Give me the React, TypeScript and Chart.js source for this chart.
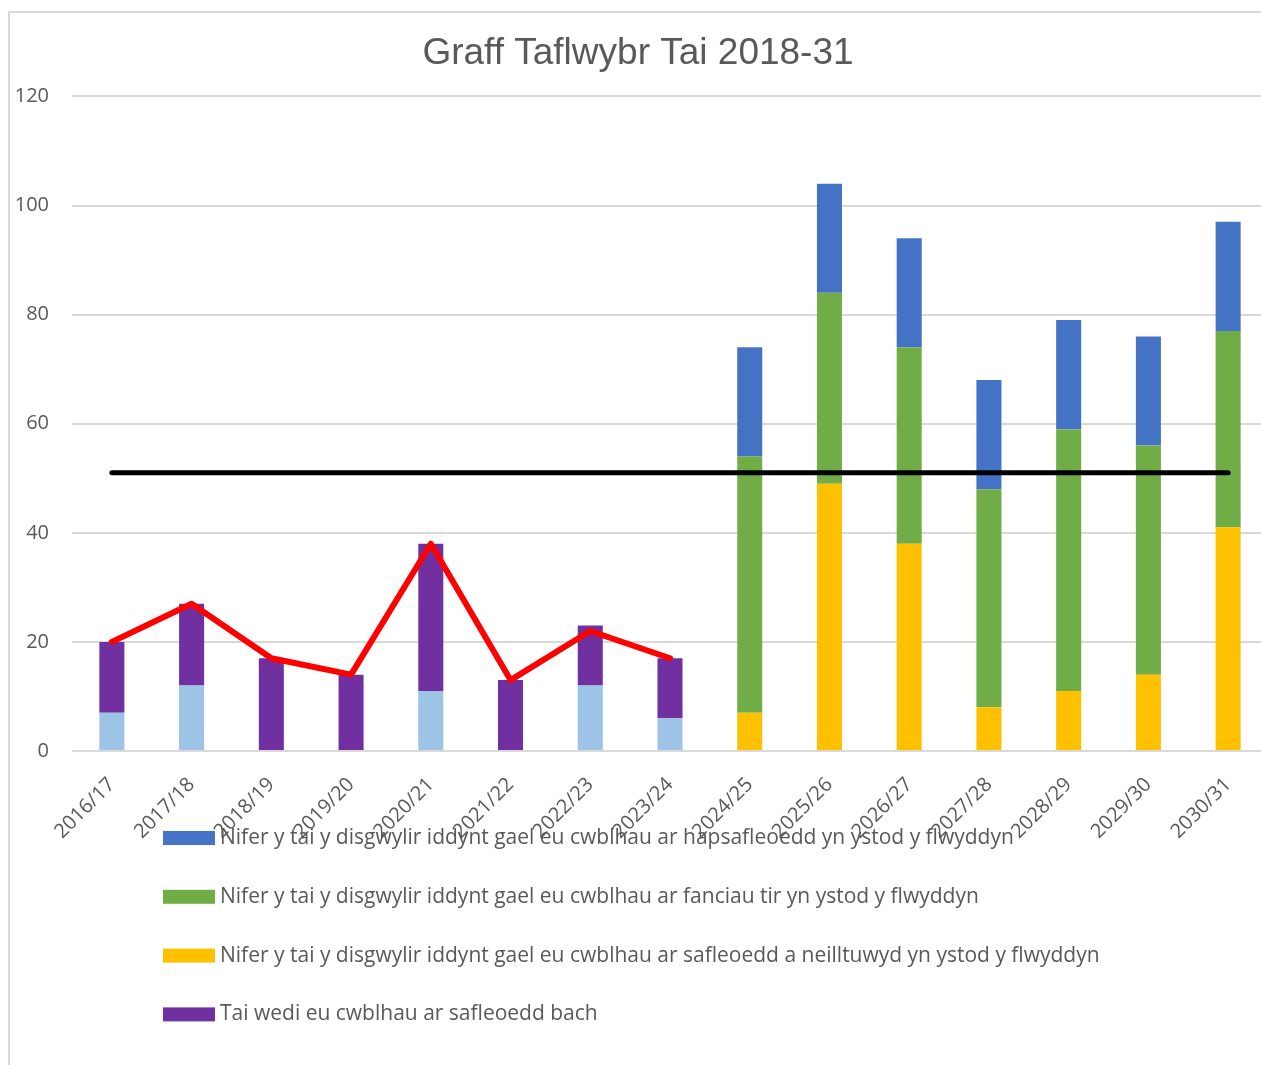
import React, { useEffect, useRef } from "react";
import { Chart, registerables } from "chart.js";

Chart.register(...registerables);

const TITLE = "Graff Taflwybr Tai 2018-31";

const categories = [
  "2016/17", "2017/18", "2018/19", "2019/20", "2020/21", "2021/22", "2022/23", "2023/24",
  "2024/25", "2025/26", "2026/27", "2027/28", "2028/29", "2029/30", "2030/31",
];

// completed on larger sites (light blue, not in legend)
const completedOther = [7, 12, 0, 0, 11, 0, 12, 6, null, null, null, null, null, null, null];
// Tai wedi eu cwblhau ar safleoedd bach
const completedSmall = [13, 15, 17, 14, 27, 13, 11, 11, null, null, null, null, null, null, null];
// safleoedd a neilltuwyd
const allocatedSites = [null, null, null, null, null, null, null, null, 7, 49, 38, 8, 11, 14, 41];
// fanciau tir
const landBanks = [null, null, null, null, null, null, null, null, 47, 35, 36, 40, 48, 42, 36];
// hapsafleoedd
const windfallSites = [null, null, null, null, null, null, null, null, 20, 20, 20, 20, 20, 20, 20];
// red trend line
const completedTotal = [20, 27, 17, 14, 38, 13, 22, 17, null, null, null, null, null, null, null];
// black target line
const annualTarget = [51, 51, 51, 51, 51, 51, 51, 51, 51, 51, 51, 51, 51, 51, 51];

const yTicks = [0, 20, 40, 60, 80, 100, 120];

const legendLabels = [
  "Nifer y tai y disgwylir iddynt gael eu cwblhau ar hapsafleoedd yn ystod y flwyddyn",
  "Nifer y tai y disgwylir iddynt gael eu cwblhau ar fanciau tir yn ystod y flwyddyn",
  "Nifer y tai y disgwylir iddynt gael eu cwblhau ar safleoedd a neilltuwyd yn ystod y flwyddyn",
  "Tai wedi eu cwblhau ar safleoedd bach",
];

const TEXT = "#595959";
const GRID = "#d9d9d9";
const TITLE_FONT = "'Liberation Sans', Arial, sans-serif";
const FONT = "'Open Sans', 'Noto Sans', sans-serif";

const W = 1272;
const H = 1065;

export default function App() {
  const ref = useRef<HTMLCanvasElement | null>(null);

  useEffect(() => {
    const canvas = ref.current;
    if (!canvas) return;

    const framePlugin = {
      id: "frame",
      beforeDraw(chart: any) {
        const ctx = chart.ctx;
        ctx.save();
        ctx.strokeStyle = GRID;
        ctx.lineWidth = 2;
        ctx.beginPath();
        ctx.moveTo(9, H);
        ctx.lineTo(9, 12);
        ctx.lineTo(W, 12);
        ctx.stroke();
        ctx.restore();
      },
    };

    const legendPlugin = {
      id: "customLegend",
      afterDraw(chart: any) {
        const ctx = chart.ctx;
        const legendDatasets = [5, 4, 3, 2];
        ctx.save();
        ctx.font = `21px ${FONT}`;
        ctx.textBaseline = "middle";
        ctx.textAlign = "left";
        legendDatasets.forEach((dsIndex, i) => {
          const ds = chart.data.datasets[dsIndex];
          const cy = 838 + i * 58.8;
          ctx.fillStyle = ds.backgroundColor;
          ctx.fillRect(163, cy - 7, 52, 14);
          ctx.fillStyle = TEXT;
          ctx.fillText(ds.label, 220, cy);
        });
        ctx.restore();
      },
    };

    const chart = new Chart(canvas, {
      type: "bar",
      data: {
        labels: categories,
        datasets: [
          {
            type: "line",
            label: "",
            data: completedTotal,
            borderColor: "#ff0000",
            backgroundColor: "#ff0000",
            borderWidth: 6,
            pointRadius: 0,
            borderCapStyle: "round",
            borderJoinStyle: "round",
            stack: "red",
            order: 0,
          } as any,
          {
            label: "",
            data: completedOther,
            backgroundColor: "#9dc3e6",
            stack: "bars",
            order: 2,
          },
          {
            label: legendLabels[3],
            data: completedSmall,
            backgroundColor: "#7030a0",
            stack: "bars",
            order: 2,
          },
          {
            label: legendLabels[2],
            data: allocatedSites,
            backgroundColor: "#ffc000",
            stack: "bars",
            order: 2,
          },
          {
            label: legendLabels[1],
            data: landBanks,
            backgroundColor: "#70ad47",
            stack: "bars",
            order: 2,
          },
          {
            label: legendLabels[0],
            data: windfallSites,
            backgroundColor: "#4472c4",
            stack: "bars",
            order: 2,
          },
          {
            type: "line",
            label: "",
            data: annualTarget,
            borderColor: "#000000",
            backgroundColor: "#000000",
            borderWidth: 5,
            pointRadius: 0,
            borderCapStyle: "round",
            stack: "target",
            order: 1,
          } as any,
        ],
      },
      options: {
        responsive: false,
        animation: false,
        devicePixelRatio: 1,
        layout: { padding: { left: 8, right: 4, top: 0, bottom: 0 } },
        datasets: {
          bar: { barPercentage: 0.314, categoryPercentage: 1 },
        },
        plugins: {
          legend: { display: false },
          tooltip: { enabled: false },
          title: {
            display: true,
            text: TITLE,
            color: TEXT,
            font: { family: TITLE_FONT, size: 37, weight: "normal" },
            padding: { top: 32, bottom: 20 },
          },
        },
        scales: {
          x: {
            stacked: true,
            grid: { display: false, drawTicks: false },
            border: { display: false },
            ticks: {
              color: TEXT,
              font: { family: FONT, size: 20 },
              minRotation: 45,
              maxRotation: 45,
              autoSkip: false,
              padding: 22,
            },
            afterFit(scale: any) {
              scale.height = H - 751;
            },
          },
          y: {
            stacked: true,
            min: 0,
            max: 120,
            afterBuildTicks(scale: any) {
              scale.ticks = yTicks.map((v) => ({ value: v }));
            },
            grid: { color: GRID, lineWidth: 2, drawTicks: false },
            border: { display: false },
            ticks: {
              color: TEXT,
              font: { family: FONT, size: 20 },
              padding: 23,
            },
            afterFit(scale: any) {
              scale.width = 64;
            },
          },
        },
      },
      plugins: [framePlugin, legendPlugin],
    });

    return () => chart.destroy();
  }, []);

  return (
    <div
      style={{
        position: "fixed",
        left: 0,
        top: 0,
        width: 1261,
        height: 1065,
        overflow: "hidden",
        background: "#ffffff",
      }}
    >
      <canvas ref={ref} width={W} height={H} style={{ display: "block" }} />
    </div>
  );
}
